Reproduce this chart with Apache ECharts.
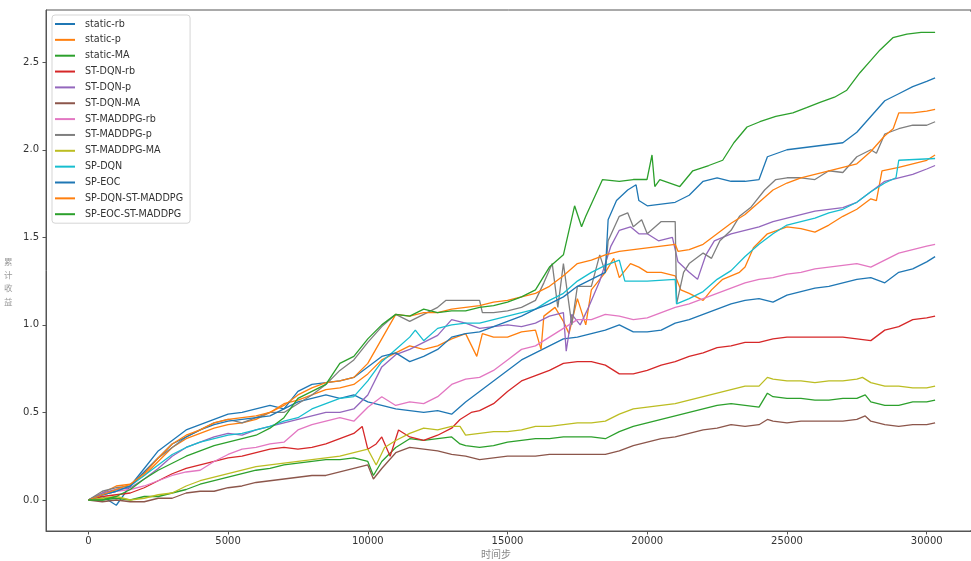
<!DOCTYPE html>
<html>
<head>
<meta charset="utf-8">
<script src="https://cdn.jsdelivr.net/npm/echarts@6/dist/echarts.min.js"></script>
<style>
html,body{margin:0;padding:0;background:#fff;}
#chart{width:971px;height:561px;}
</style>
</head>
<body>
<div id="chart"></div>
<script>
const seriesNames = ['static-rb','static-p','static-MA','ST-DQN-rb','ST-DQN-p','ST-DQN-MA','ST-MADDPG-rb','ST-MADDPG-p','ST-MADDPG-MA','SP-DQN','SP-EOC','SP-DQN-ST-MADDPG','SP-EOC-ST-MADDPG'];
const seriesColors = ['#1f77b4','#ff7f0e','#2ca02c','#d62728','#9467bd','#8c564b','#e377c2','#7f7f7f','#bcbd22','#17becf','#1f77b4','#ff7f0e','#2ca02c'];

const staticRb = [[0,0],[500,0.02],[1000,-0.03],[1500,0.08],[2000,0.18],[2500,0.28],[3000,0.34],[3500,0.40],[4000,0.43],[4500,0.46],[5000,0.49],[5500,0.50],[6000,0.52],[6500,0.54],[7000,0.52],[7500,0.56],[8000,0.58],[8500,0.60],[9000,0.58],[9500,0.60],[10000,0.56],[10500,0.54],[11000,0.52],[11500,0.51],[12000,0.50],[12500,0.51],[13000,0.49],[13500,0.56],[14000,0.62],[14500,0.68],[15000,0.74],[15500,0.80],[16000,0.84],[16500,0.88],[17000,0.92],[17500,0.93],[18000,0.95],[18500,0.97],[19000,1.00],[19500,0.96],[20000,0.96],[20500,0.97],[21000,1.01],[21500,1.03],[22000,1.06],[22500,1.09],[23000,1.12],[23500,1.14],[24000,1.15],[24500,1.13],[25000,1.17],[25500,1.19],[26000,1.21],[26500,1.22],[27000,1.24],[27500,1.26],[28000,1.27],[28500,1.24],[29000,1.30],[29500,1.32],[30000,1.36],[30300,1.39]];
const staticP = [[0,0],[500,0.04],[1000,0.08],[1500,0.09],[2000,0.14],[2500,0.22],[3000,0.30],[3500,0.35],[4000,0.38],[4500,0.41],[5000,0.43],[5500,0.44],[6000,0.46],[6500,0.50],[7000,0.55],[7500,0.57],[8000,0.60],[8500,0.63],[9000,0.64],[9500,0.66],[10000,0.72],[10500,0.80],[11000,0.84],[11500,0.88],[12000,0.86],[12500,0.88],[13000,0.92],[13500,0.95],[13900,0.82],[14100,0.95],[14500,0.93],[15000,0.93],[15500,0.96],[16000,0.97],[16200,0.86],[16300,1.05],[16700,1.10],[17000,1.02],[17200,0.95],[17500,1.15],[17800,1.00],[18000,1.20],[18500,1.30],[18800,1.38],[19000,1.27],[19400,1.35],[19700,1.33],[20000,1.30],[20500,1.30],[21000,1.28],[21200,1.20],[21500,1.18],[22000,1.14],[22300,1.20],[22700,1.26],[23000,1.28],[23300,1.30],[23500,1.33],[23800,1.44],[24300,1.52],[25000,1.56],[25500,1.55],[26000,1.53],[26500,1.57],[27000,1.62],[27500,1.66],[28000,1.72],[28200,1.71],[28400,1.88],[29000,1.90],[29500,1.92],[30000,1.94],[30300,1.97]];
const staticMA = [[0,0],[500,0.0],[1000,0.01],[1500,0.0],[2000,0.02],[2500,0.02],[3000,0.04],[3500,0.06],[4000,0.09],[4500,0.11],[5000,0.13],[5500,0.15],[6000,0.17],[6500,0.18],[7000,0.20],[7500,0.21],[8000,0.22],[8500,0.23],[9000,0.23],[9500,0.24],[10000,0.22],[10200,0.14],[10500,0.22],[11000,0.30],[11500,0.35],[12000,0.34],[12500,0.35],[13000,0.36],[13300,0.32],[13500,0.31],[14000,0.30],[14500,0.31],[15000,0.33],[15500,0.34],[16000,0.35],[16500,0.35],[17000,0.36],[17500,0.36],[18000,0.36],[18500,0.35],[19000,0.39],[19500,0.42],[20000,0.44],[20500,0.46],[21000,0.48],[21500,0.50],[22000,0.52],[22500,0.54],[23000,0.55],[23500,0.54],[24000,0.53],[24300,0.61],[24500,0.59],[25000,0.58],[25500,0.58],[26000,0.57],[26500,0.57],[27000,0.58],[27500,0.58],[27800,0.60],[28000,0.56],[28500,0.54],[29000,0.54],[29500,0.56],[30000,0.56],[30300,0.57]];
const stDqnRb = [[0,0],[500,0.02],[1000,0.03],[1500,0.04],[2000,0.07],[2500,0.11],[3000,0.15],[3500,0.18],[4000,0.20],[4500,0.22],[5000,0.24],[5500,0.25],[6000,0.27],[6500,0.29],[7000,0.30],[7500,0.29],[8000,0.30],[8500,0.32],[9000,0.35],[9500,0.38],[9800,0.42],[10000,0.29],[10300,0.32],[10500,0.36],[10800,0.25],[11100,0.40],[11500,0.36],[12000,0.34],[12500,0.37],[13000,0.41],[13300,0.46],[13700,0.50],[14000,0.51],[14500,0.55],[15000,0.62],[15500,0.68],[16000,0.71],[16500,0.74],[17000,0.78],[17500,0.79],[18000,0.79],[18500,0.77],[19000,0.72],[19500,0.72],[20000,0.74],[20500,0.77],[21000,0.79],[21500,0.82],[22000,0.84],[22500,0.87],[23000,0.88],[23500,0.90],[24000,0.90],[24500,0.92],[25000,0.93],[25500,0.93],[26000,0.93],[26500,0.93],[27000,0.93],[27500,0.92],[28000,0.91],[28500,0.97],[29000,0.99],[29500,1.03],[30000,1.04],[30300,1.05]];
const stDqnP = [[0,0],[500,0.04],[1000,0.06],[1500,0.07],[2000,0.12],[2500,0.18],[3000,0.25],[3500,0.30],[4000,0.33],[4500,0.36],[5000,0.38],[5500,0.37],[6000,0.40],[6500,0.42],[7000,0.44],[7500,0.46],[8000,0.48],[8500,0.50],[9000,0.50],[9500,0.52],[10000,0.60],[10500,0.76],[11000,0.83],[11500,0.86],[12000,0.90],[12500,0.94],[13000,1.03],[13500,1.01],[14000,0.98],[14500,0.99],[15000,1.00],[15500,0.99],[16000,1.01],[16500,1.05],[17000,1.07],[17100,0.85],[17300,1.06],[17600,1.00],[17900,1.10],[18300,1.25],[18700,1.45],[19000,1.54],[19400,1.56],[19700,1.52],[20000,1.52],[20400,1.48],[20900,1.50],[21100,1.36],[21500,1.30],[21800,1.26],[22100,1.40],[22400,1.48],[23000,1.52],[23500,1.54],[24000,1.56],[24500,1.59],[25000,1.61],[25500,1.63],[26000,1.65],[26500,1.66],[27000,1.67],[27500,1.70],[28000,1.76],[28500,1.82],[29000,1.84],[29500,1.86],[30000,1.89],[30300,1.91]];
const stDqnMA = [[0,0],[500,-0.01],[1000,0.0],[1500,-0.01],[2000,-0.01],[2500,0.01],[3000,0.01],[3500,0.04],[4000,0.05],[4500,0.05],[5000,0.07],[5500,0.08],[6000,0.10],[6500,0.11],[7000,0.12],[7500,0.13],[8000,0.14],[8500,0.14],[9000,0.16],[9500,0.18],[10000,0.20],[10200,0.12],[10500,0.18],[11000,0.27],[11500,0.30],[12000,0.29],[12500,0.28],[13000,0.26],[13500,0.25],[14000,0.23],[14500,0.24],[15000,0.25],[15500,0.25],[16000,0.25],[16500,0.26],[17000,0.26],[17500,0.26],[18000,0.26],[18500,0.26],[19000,0.28],[19500,0.31],[20000,0.33],[20500,0.35],[21000,0.36],[21500,0.38],[22000,0.40],[22500,0.41],[23000,0.43],[23500,0.42],[24000,0.43],[24300,0.46],[24500,0.45],[25000,0.44],[25500,0.45],[26000,0.45],[26500,0.45],[27000,0.45],[27500,0.46],[27800,0.48],[28000,0.45],[28500,0.43],[29000,0.42],[29500,0.43],[30000,0.43],[30300,0.44]];
const stMaddpgRb = [[0,0],[500,0.03],[1000,0.05],[1500,0.06],[2000,0.08],[2500,0.11],[3000,0.14],[3500,0.16],[4000,0.17],[4500,0.22],[5000,0.26],[5500,0.29],[6000,0.30],[6500,0.32],[7000,0.33],[7500,0.40],[8000,0.43],[8500,0.45],[9000,0.47],[9500,0.45],[10000,0.53],[10500,0.59],[11000,0.54],[11500,0.56],[12000,0.55],[12500,0.59],[13000,0.66],[13500,0.69],[14000,0.70],[14500,0.74],[15000,0.80],[15500,0.86],[16000,0.88],[16500,0.93],[17000,0.98],[17500,1.03],[18000,1.03],[18500,1.06],[19000,1.05],[19500,1.03],[20000,1.04],[20500,1.07],[21000,1.10],[21500,1.12],[22000,1.15],[22500,1.18],[23000,1.21],[23500,1.24],[24000,1.26],[24500,1.27],[25000,1.29],[25500,1.30],[26000,1.32],[26500,1.33],[27000,1.34],[27500,1.35],[28000,1.33],[28500,1.37],[29000,1.41],[29500,1.43],[30000,1.45],[30300,1.46]];
const stMaddpgP = [[0,0],[500,0.05],[1000,0.07],[1500,0.08],[2000,0.16],[2500,0.24],[3000,0.30],[3500,0.36],[4000,0.40],[4500,0.44],[5000,0.46],[5500,0.44],[6000,0.47],[6500,0.50],[7000,0.50],[7500,0.55],[8000,0.60],[8500,0.66],[9000,0.74],[9500,0.80],[10000,0.90],[10500,0.99],[11000,1.06],[11500,1.02],[12000,1.06],[12500,1.10],[12800,1.14],[13500,1.14],[14000,1.14],[14100,1.07],[14500,1.07],[15000,1.08],[15500,1.10],[16000,1.14],[16300,1.24],[16600,1.35],[16800,1.10],[17000,1.35],[17300,1.00],[17500,1.22],[18000,1.22],[18300,1.40],[18500,1.30],[18600,1.48],[19000,1.62],[19300,1.64],[19500,1.56],[19800,1.60],[20000,1.52],[20500,1.59],[21000,1.59],[21050,1.12],[21300,1.30],[21500,1.35],[22000,1.41],[22300,1.38],[22600,1.48],[23000,1.54],[23300,1.62],[23700,1.67],[24200,1.77],[24600,1.83],[25000,1.84],[25500,1.84],[26000,1.83],[26500,1.88],[27000,1.87],[27500,1.96],[28000,2.00],[28200,1.98],[28500,2.09],[29000,2.12],[29500,2.14],[30000,2.14],[30300,2.16]];
const stMaddpgMA = [[0,0],[500,0.01],[1000,0.02],[1500,0.00],[2000,0.01],[2500,0.03],[3000,0.04],[3500,0.08],[4000,0.11],[4500,0.13],[5000,0.15],[5500,0.17],[6000,0.19],[6500,0.20],[7000,0.21],[7500,0.22],[8000,0.23],[8500,0.24],[9000,0.25],[9500,0.27],[10000,0.29],[10300,0.20],[10600,0.30],[11000,0.34],[11500,0.38],[12000,0.41],[12500,0.40],[13000,0.42],[13300,0.42],[13500,0.37],[14000,0.38],[14500,0.39],[15000,0.39],[15500,0.40],[16000,0.42],[16500,0.42],[17000,0.43],[17500,0.44],[18000,0.44],[18500,0.45],[19000,0.49],[19500,0.52],[20000,0.53],[20500,0.54],[21000,0.55],[21500,0.57],[22000,0.59],[22500,0.61],[23000,0.63],[23500,0.65],[24000,0.65],[24300,0.70],[24500,0.69],[25000,0.68],[25500,0.68],[26000,0.67],[26500,0.68],[27000,0.68],[27500,0.69],[27700,0.70],[28000,0.67],[28500,0.65],[29000,0.65],[29500,0.64],[30000,0.64],[30300,0.65]];
const spDqn = [[0,0],[500,0.03],[1000,0.05],[1500,0.08],[2000,0.14],[2500,0.20],[3000,0.26],[3500,0.30],[4000,0.33],[4500,0.35],[5000,0.37],[5500,0.38],[6000,0.40],[6500,0.42],[7000,0.45],[7500,0.47],[8000,0.52],[8500,0.55],[9000,0.58],[9500,0.59],[10000,0.68],[10500,0.79],[11000,0.86],[11500,0.93],[11700,0.97],[12000,0.91],[12500,0.98],[13000,1.00],[13500,1.01],[14000,1.01],[14500,1.03],[15000,1.05],[15500,1.07],[16000,1.09],[16500,1.14],[17000,1.18],[17500,1.25],[18000,1.30],[18500,1.34],[19000,1.37],[19200,1.25],[20000,1.25],[21000,1.26],[21050,1.12],[21500,1.15],[22000,1.19],[22500,1.26],[23000,1.31],[23500,1.39],[24000,1.46],[24500,1.52],[25000,1.57],[25500,1.59],[26000,1.61],[26500,1.64],[27000,1.66],[27500,1.70],[28000,1.76],[28500,1.81],[28900,1.84],[29000,1.94],[30300,1.95]];
const spEoc = [[0,0],[500,0.03],[1000,0.05],[1500,0.08],[2000,0.16],[2500,0.24],[3000,0.32],[3500,0.36],[4000,0.40],[4500,0.43],[5000,0.45],[5500,0.46],[6000,0.47],[6500,0.48],[7000,0.52],[7500,0.62],[8000,0.66],[8500,0.67],[9000,0.68],[9500,0.70],[10000,0.76],[10500,0.82],[11000,0.84],[11500,0.79],[12000,0.82],[12500,0.86],[13000,0.93],[13500,0.95],[14000,0.96],[14500,0.99],[15000,1.02],[15500,1.05],[16000,1.09],[16500,1.12],[17000,1.16],[17500,1.22],[18000,1.26],[18500,1.30],[18600,1.60],[18900,1.71],[19300,1.77],[19600,1.80],[19700,1.71],[20000,1.68],[21000,1.70],[21500,1.74],[22000,1.82],[22500,1.84],[23000,1.82],[23500,1.82],[24000,1.83],[24300,1.96],[25000,2.00],[26000,2.02],[26500,2.03],[27000,2.04],[27500,2.10],[28000,2.19],[28500,2.28],[29000,2.32],[29500,2.36],[30000,2.39],[30300,2.41]];
const spDqnStMaddpg = [[0,0],[500,0.03],[1000,0.06],[1500,0.09],[2000,0.15],[2500,0.24],[3000,0.32],[3500,0.37],[4000,0.40],[4500,0.44],[5000,0.46],[5500,0.47],[6000,0.48],[6500,0.50],[7000,0.54],[7500,0.60],[8000,0.64],[8500,0.67],[9000,0.68],[9500,0.70],[10000,0.78],[10500,0.92],[11000,1.06],[11500,1.05],[12000,1.07],[12500,1.07],[13000,1.09],[13500,1.10],[14000,1.11],[14500,1.13],[15000,1.14],[15500,1.16],[16000,1.18],[16500,1.22],[17000,1.28],[17500,1.35],[18000,1.37],[18500,1.40],[19000,1.42],[19500,1.43],[20000,1.44],[20500,1.45],[21000,1.46],[21100,1.42],[21500,1.43],[22000,1.46],[22500,1.52],[23000,1.58],[23500,1.63],[24000,1.70],[24500,1.77],[25000,1.81],[25500,1.84],[26000,1.86],[26500,1.88],[27000,1.90],[27500,1.92],[28000,1.99],[28500,2.08],[28800,2.12],[29000,2.21],[29500,2.21],[30000,2.22],[30300,2.23]];
const spEocStMaddpg = [[0,0],[500,0.0],[1000,0.02],[1500,0.06],[2000,0.12],[2500,0.17],[3000,0.21],[3500,0.25],[4000,0.28],[4500,0.31],[5000,0.33],[5500,0.35],[6000,0.37],[6500,0.41],[7000,0.47],[7500,0.58],[8000,0.62],[8500,0.66],[9000,0.78],[9500,0.82],[10000,0.92],[10500,1.00],[11000,1.06],[11500,1.05],[12000,1.09],[12500,1.07],[13000,1.08],[13500,1.08],[14000,1.10],[14500,1.11],[15000,1.13],[15500,1.16],[16000,1.20],[16500,1.33],[17000,1.40],[17400,1.68],[17650,1.56],[17800,1.62],[18400,1.83],[19000,1.82],[19500,1.83],[19990,1.83],[20170,1.97],[20270,1.79],[20450,1.83],[21165,1.79],[21630,1.88],[22200,1.91],[22700,1.94],[23100,2.04],[23570,2.13],[24030,2.16],[24600,2.19],[25210,2.21],[25700,2.24],[26180,2.27],[26700,2.30],[27140,2.34],[27610,2.44],[28000,2.51],[28330,2.57],[28790,2.64],[29290,2.66],[29800,2.67],[30300,2.67]];

const seriesData = [staticRb, staticP, staticMA, stDqnRb, stDqnP, stDqnMA, stMaddpgRb, stMaddpgP, stMaddpgMA, spDqn, spEoc, spDqnStMaddpg, spEocStMaddpg];

const chart = echarts.init(document.getElementById('chart'), null, {renderer: 'canvas'});
const font = 'DejaVu Sans';
chart.setOption({
  animation: false,
  backgroundColor: '#fff',
  grid: {left: 46, top: 10, right: 0, bottom: 30, show: true, borderColor: '#555', borderWidth: 1, backgroundColor: 'transparent'},
  legend: {
    orient: 'vertical', left: 52, top: 15,
    padding: [3, 7, 3, 3],
    icon: 'rect',
    itemWidth: 20, itemHeight: 2, itemGap: 3.85,
    backgroundColor: 'rgba(255,255,255,0.8)', borderColor: '#d5d5d5', borderWidth: 1, borderRadius: 3,
    textStyle: {fontFamily: font, fontSize: 9.6, color: '#333', lineHeight: 12, padding: [0, 0, 0, 5]},
    data: seriesNames
  },
  xAxis: {
    type: 'value', min: -1515, max: 31585,
    axisLine: {show: true, onZero: false, lineStyle: {color: '#555', width: 1}},
    axisTick: {show: true, length: 3.5, lineStyle: {color: '#555'}},
    axisLabel: {fontFamily: font, fontSize: 10, color: '#333', margin: 5, showMinLabel: false, showMaxLabel: false, formatter: v => String(Math.round(v))},
    splitLine: {show: false}
  },
  yAxis: {
    type: 'value', min: -0.177, max: 2.798,
    axisLine: {show: true, onZero: false, lineStyle: {color: '#555', width: 1}},
    axisTick: {show: true, length: 3.5, lineStyle: {color: '#555'}},
    axisLabel: {fontFamily: font, fontSize: 10, color: '#333', margin: 7, showMinLabel: false, showMaxLabel: false, formatter: v => v.toFixed(1)},
    splitLine: {show: false}
  },
  graphic: [
    {type: 'text', left: 4, top: 255, style: {text: '累\n计\n收\n益', fontFamily: 'Noto Sans CJK SC', fontSize: 8.5, lineHeight: 13.3, fill: '#999'}},
    {type: 'text', left: 481, top: 549, style: {text: '时间步', fontFamily: 'Noto Sans CJK SC', fontSize: 10, fill: '#888'}},
    {type: 'rect', right: 0, top: 12, z: 100, shape: {width: 2, height: 518}, style: {fill: '#fff'}}
  ],
  series: seriesNames.map((name, i) => ({
    name: name, type: 'line', data: seriesData[i], symbol: 'none',
    lineStyle: {color: seriesColors[i], width: 1.3}, itemStyle: {color: seriesColors[i]},
    emphasis: {disabled: true}
  }))
});
</script>
</body>
</html>
